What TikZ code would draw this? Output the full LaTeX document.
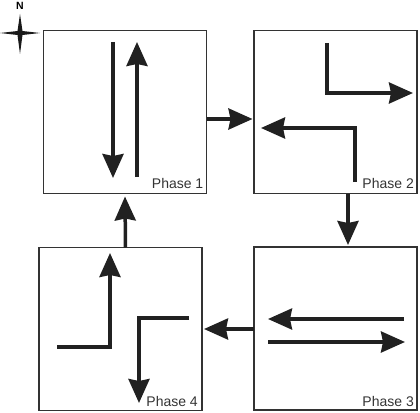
\documentclass[tikz,border=0pt]{standalone}
\usepackage{fontspec}
\setmainfont{Liberation Sans}
\usetikzlibrary{arrows.meta}

\begin{document}
\begin{tikzpicture}[x=1pt, y=-1pt,
    phasebox/.style={draw=black!80, line width=1.1pt, minimum width=163pt, minimum height=163pt, inner sep=0pt, outer sep=0pt},
    move/.style={line width=3.5pt, draw=black!87, -{Stealth[length=24pt, width=21pt, inset=2pt]}},
    phaselabel/.style={anchor=base east, inner sep=0pt, text=black!80, font=\fontsize{14}{16}\selectfont}]
    \useasboundingbox (0,0) rectangle (420,412);

    \node[font=\bfseries\fontsize{10.5}{12}\selectfont] (north) at (20,6) {N};
    \fill[black!90] (20,14) -- (22.5,31) -- (40,33) -- (22.5,35) -- (20,54) -- (17.5,35) -- (0,33) -- (17.5,31) -- cycle;

    \node[phasebox] (p1) at (125,112) {};
    \node[phasebox] (p2) at (335.5,112) {};
    \node[phasebox] (p3) at (335.5,328.5) {};
    \node[phasebox] (p4) at (120.5,329) {};

    \node[phaselabel] (l1) at ([xshift=-3pt, yshift=5pt]p1.south east) {Phase 1};
    \node[phaselabel] (l2) at ([xshift=-3pt, yshift=5pt]p2.south east) {Phase 2};
    \node[phaselabel] (l3) at ([xshift=-3pt, yshift=4pt]p3.south east) {Phase 3};
    \node[phaselabel] (l4) at ([xshift=-4pt, yshift=4pt]p4.south east) {Phase 4};

    \draw[move] ([yshift=-7pt]p1.east) -- ([yshift=-7pt, xshift=-1.5pt]p2.west);
    \draw[move] ([xshift=12.5pt]p2.south) -- ([xshift=12.5pt, yshift=2pt]p3.north);
    \draw[move] ([yshift=-0.5pt]p3.west) -- ([xshift=2pt]p4.east);
    \draw[move] ([xshift=5pt]p4.north) -- ([yshift=-3pt]p1.south);

    \draw[move] (113,42) -- (113,178);
    \draw[move] (137,177) -- (137,42);

    \draw[move] (327,43) -- (327,93) -- (413,93);
    \draw[move] (355,182) -- (355,128) -- (261,128);

    \draw[move] (404,319) -- (268,319);
    \draw[move] (268,342) -- (405,342);

    \draw[move] (57,347) -- (110,347) -- (110,253);
    \draw[move] (189,318) -- (139,318) -- (139,403);
\end{tikzpicture}
\end{document}
